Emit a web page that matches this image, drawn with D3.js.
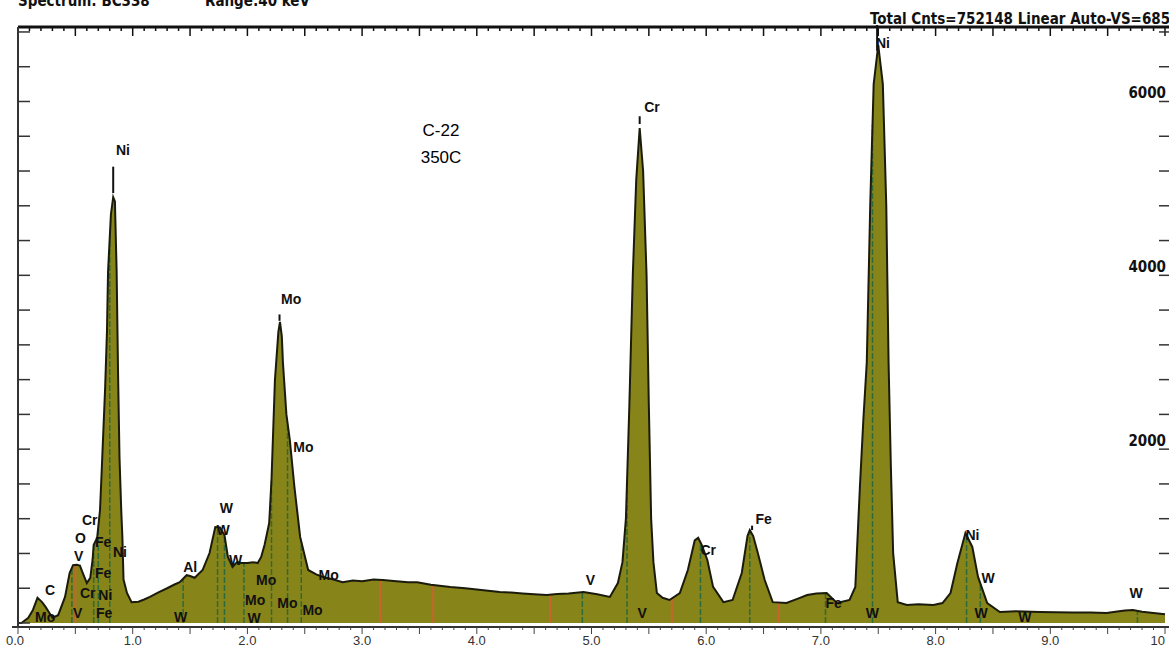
<!DOCTYPE html>
<html>
<head>
<meta charset="utf-8">
<script src="https://cdn.jsdelivr.net/npm/d3@7"></script>
<style>
	body { margin: 0; background: #fff; }
	svg { display: block; }
	.lbl { font-family: "Liberation Sans", Arial, sans-serif; font-size: 14px; font-weight: bold; fill: #111; }
	.hdr { font-family: "Liberation Sans Narrow", "DejaVu Sans Condensed", Arial, sans-serif; font-size: 15px; font-weight: bold; fill: #111; }
</style>
</head>
<body>
<div id="chart"></div>
<script>
// spectrum (keV, counts)
var energy = [0.00, 0.03, 0.09, 0.13, 0.17, 0.21, 0.24, 0.30, 0.35, 0.41, 0.45, 0.48, 0.51, 0.54, 0.56, 0.60, 0.63, 0.65, 0.66, 0.69, 0.715, 0.73, 0.76, 0.776, 0.785, 0.81, 0.83, 0.845, 0.86, 0.872, 0.885, 0.90, 0.91, 0.92, 0.95, 0.99,
	1.05, 1.10, 1.15, 1.22, 1.30, 1.36, 1.41, 1.47, 1.50, 1.54, 1.61, 1.67, 1.72, 1.76, 1.80, 1.83, 1.87, 1.91, 1.95, 2.00, 2.05, 2.09, 2.12, 2.15, 2.19, 2.21, 2.24, 2.27, 2.284, 2.30, 2.31, 2.34, 2.37, 2.41, 2.46, 2.53,
	2.60, 2.66, 2.75, 2.83, 2.92, 3.00, 3.10, 3.18, 3.30, 3.40, 3.48, 3.60, 3.77, 3.90, 4.00, 4.10, 4.20, 4.30, 4.40, 4.50, 4.61, 4.70, 4.80, 4.93, 5.05, 5.16, 5.23, 5.27, 5.30, 5.33, 5.36, 5.39, 5.42, 5.45, 5.48, 5.50, 5.52, 5.54, 5.57,
	5.62, 5.68, 5.77, 5.84, 5.90, 5.93, 5.96, 6.01, 6.06, 6.15, 6.23, 6.31, 6.36, 6.38, 6.41, 6.45, 6.51, 6.58, 6.70, 6.80, 6.88, 6.96, 7.05, 7.14, 7.25, 7.30, 7.34, 7.37, 7.40, 7.43, 7.46, 7.50, 7.54, 7.57, 7.59, 7.61, 7.63, 7.67,
	7.75, 7.85, 7.98, 8.06, 8.13, 8.19, 8.26, 8.32, 8.37, 8.45, 8.56, 8.70, 8.91, 9.05, 9.20, 9.35, 9.49, 9.60, 9.65, 9.72, 9.80, 9.90, 10.0];
var counts = [0, 0, 60, 150, 290, 240, 185, 60, 90, 300, 575, 665, 670, 660, 590, 460, 520, 725, 900, 980, 1300, 1760, 2715, 3370, 4040, 4700, 4900, 4850, 4040, 2900, 1900, 1300, 990, 500, 345, 240,
	245, 270, 300, 350, 400, 440, 470, 550, 540, 520, 610, 805, 1105, 1100, 1010, 760, 645, 700, 690, 690, 700, 690, 760, 900, 1150, 1645, 2795, 3350, 3463, 3300, 2990, 2400, 2105, 1565, 990, 610,
	560, 530, 500, 470, 490, 480, 500, 495, 480, 470, 470, 440, 415, 400, 385, 370, 357, 350, 340, 330, 322, 335, 340, 357, 330, 300, 460, 700, 1200, 2500, 4000, 5100, 5695, 5200, 4000, 2500, 1200, 700, 345,
	290, 265, 345, 610, 950, 980, 900, 725, 415, 240, 265, 575, 1000, 1070, 1000, 805, 495, 240, 230, 280, 322, 340, 345, 230, 265, 415, 1565, 2335, 3000, 4800, 6200, 6650, 6200, 4800, 3000, 1800, 800, 240,
	207, 215, 207, 230, 345, 690, 1035, 875, 530, 230, 127, 135, 127, 125, 120, 122, 115, 135, 145, 150, 130, 115, 100];

var axisTicks = [2000, 4000, 6000];
var keVTicks = ["0.0", "1.0", "2.0", "3.0", "4.0", "5.0", "6.0", "7.0", "8.0", "9.0", "10"];

// element tags: text, keV, counts of the text baseline
var tagText = ["Ni", "Mo", "Mo", "Cr", "Ni", "C", "Mo", "O", "V", "V", "Cr", "Fe", "Ni", "Fe", "Cr", "Ni", "Fe", "Al", "W", "W", "W", "W", "Mo", "Mo", "W", "Mo", "Mo", "Mo", "V", "V", "Cr", "Fe", "Fe", "W", "Ni", "W", "W", "W", "W"];
var tagKeV = [0.854, 2.293, 2.40, 5.46, 7.48, 0.235, 0.148, 0.497, 0.488, 0.48, 0.558, 0.671, 0.828, 0.671, 0.54, 0.70, 0.68, 1.44, 1.36, 1.76, 1.73, 1.84, 2.075, 1.98, 2.0, 2.26, 2.48, 2.62, 4.95, 5.40, 5.95, 6.43, 7.04, 7.39, 8.26, 8.40, 8.34, 8.72, 9.69];
var tagCounts = [5382, 3669, 1967, 5877, 6612, 322, 11, 920, 713, 58, 1127, 874, 759, 518, 288, 265, 58, 587, 11, 1265, 1012, 667, 437, 207, 0, 172, 92, 495, 437, 58, 782, 1139, 172, 58, 955, 460, 58, 11, 288];

// marker lines under the curve
var greenLines = [0.47, 0.66, 0.70, 0.80, 1.44, 1.74, 1.80, 1.97, 2.21, 2.35, 2.47, 4.92, 5.31, 5.95, 6.38, 7.04, 7.45, 8.27, 8.39, 9.76];
var redLines = [0.50, 3.16, 3.62, 4.64, 5.70, 6.63];
// short marks above the main peaks
var peakMarks = [0.83, 2.28, 5.42, 6.40, 7.49];
var peakMarkTop = [5250, 3550, 5830, 1120, 6880];

var W = 1169, H = 647;
var x = d3.scaleLinear().domain([0, 10]).range([18, 1165]);
var y = d3.scaleLinear().domain([0, 6857]).range([623, 27]);

var svg = d3.select('#chart')
	.append('svg')
		.attr('width', W)
		.attr('height', H);

var pts = energy.map(function(e, i) { return [e, counts[i]]; });

function countAt(e) {
	var i = d3.bisectLeft(energy, e);
	if (i <= 0) return counts[0];
	if (i >= energy.length) return counts[counts.length - 1];
	var t = (e - energy[i - 1]) / (energy[i] - energy[i - 1]);
	return counts[i - 1] + t * (counts[i] - counts[i - 1]);
}

var area = d3.area()
	.x(function(d) { return x(d[0]); })
	.y0(y(0))
	.y1(function(d) { return y(d[1]); });

svg.append('path')
	.datum(pts)
	.attr('d', area)
	.attr('fill', '#878419');

svg.selectAll('.gline')
	.data(greenLines)
	.enter()
	.append('line')
		.attr('x1', function(d) { return x(d); })
		.attr('x2', function(d) { return x(d); })
		.attr('y1', y(0))
		.attr('y2', function(d) { return y(countAt(d)); })
		.attr('stroke', '#2e6b3a')
		.attr('stroke-width', 1.5)
		.attr('stroke-dasharray', '6,2');

svg.selectAll('.rline')
	.data(redLines)
	.enter()
	.append('line')
		.attr('x1', function(d) { return x(d); })
		.attr('x2', function(d) { return x(d); })
		.attr('y1', y(0))
		.attr('y2', function(d) { return y(countAt(d)); })
		.attr('stroke', '#c8642e')
		.attr('stroke-width', 2);

svg.append('path')
	.datum(pts)
	.attr('d', d3.line()
		.x(function(d) { return x(d[0]); })
		.y(function(d) { return y(d[1]); }))
	.attr('fill', 'none')
	.attr('stroke', '#1b1b0c')
	.attr('stroke-width', 2);

svg.selectAll('.pmark')
	.data(peakMarks)
	.enter()
	.append('line')
		.attr('x1', function(d) { return x(d); })
		.attr('x2', function(d) { return x(d); })
		.attr('y1', function(d) { return y(countAt(d)) - 4; })
		.attr('y2', function(d, i) { return y(peakMarkTop[i]); })
		.attr('stroke', '#111')
		.attr('stroke-width', 2);

svg.selectAll('.tag')
	.data(tagText)
	.enter()
	.append('text')
		.attr('class', 'lbl')
		.attr('x', function(d, i) { return x(tagKeV[i]); })
		.attr('y', function(d, i) { return y(tagCounts[i]); })
		.text(function(d) { return d; });

// frame: top, left, bottom
var minor = d3.range(0, 101).map(function(i) { return i / 10; });

svg.append('line')
	.attr('x1', x(0)).attr('x2', W)
	.attr('y1', 27).attr('y2', 27)
	.attr('stroke', '#111').attr('stroke-width', 3);

svg.selectAll('.ttick')
	.data(minor)
	.enter()
	.append('line')
		.attr('x1', function(d) { return x(d); })
		.attr('x2', function(d) { return x(d); })
		.attr('y1', 27)
		.attr('y2', function(d, i) { return i % 5 === 0 ? 36 : 31; })
		.attr('stroke', '#111')
		.attr('stroke-width', 1.5);

svg.append('line')
	.attr('x1', x(0)).attr('x2', x(0))
	.attr('y1', 27).attr('y2', 627)
	.attr('stroke', '#333').attr('stroke-width', 2);

svg.selectAll('.ltick')
	.data(d3.range(0, 6857, 400))
	.enter()
	.append('line')
		.attr('x1', x(0))
		.attr('x2', x(0) + 12)
		.attr('y1', function(d) { return y(d); })
		.attr('y2', function(d) { return y(d); })
		.attr('stroke', '#333')
		.attr('stroke-width', 1.5);

svg.selectAll('.rtick')
	.data(d3.range(400, 6857, 400))
	.enter()
	.append('line')
		.attr('x1', W - 10)
		.attr('x2', W)
		.attr('y1', function(d) { return y(d); })
		.attr('y2', function(d) { return y(d); })
		.attr('stroke', '#333')
		.attr('stroke-width', 1.5);

svg.selectAll('.rlab')
	.data(axisTicks)
	.enter()
	.append('text')
		.attr('class', 'hdr')
		.attr('x', W - 3)
		.attr('y', function(d) { return y(d) - 3; })
		.attr('text-anchor', 'end')
		.text(function(d) { return d; });

svg.append('line')
	.attr('x1', x(0) - 6).attr('x2', W)
	.attr('y1', 627).attr('y2', 627)
	.attr('stroke', '#333').attr('stroke-width', 2);

svg.selectAll('.btick')
	.data(minor)
	.enter()
	.append('line')
		.attr('x1', function(d) { return x(d); })
		.attr('x2', function(d) { return x(d); })
		.attr('y1', 627)
		.attr('y2', function(d, i) { return i % 5 === 0 ? 634 : 630; })
		.attr('stroke', '#444')
		.attr('stroke-width', 1);

svg.selectAll('.blab')
	.data(keVTicks)
	.enter()
	.append('text')
		.attr('x', function(d, i) { return i === 0 ? x(i) - 12 : x(i); })
		.attr('y', 645)
		.attr('text-anchor', function(d, i) { return i === 0 ? 'start' : (i === 10 ? 'end' : 'middle'); })
		.attr('font-family', 'Liberation Sans, Arial, sans-serif')
		.attr('font-size', 13)
		.attr('fill', '#333')
		.text(function(d) { return d; });

// header texts
svg.append('text').attr('class', 'hdr').attr('x', 18).attr('y', 6).text('Spectrum: BC338');
svg.append('text').attr('class', 'hdr').attr('x', 205).attr('y', 6).text('Range:40  keV');
svg.append('text').attr('class', 'hdr').attr('x', 870).attr('y', 24).text('Total Cnts=752148 Linear  Auto-VS=6857');

svg.append('text')
	.attr('x', 441).attr('y', 136)
	.attr('text-anchor', 'middle')
	.attr('font-family', 'Liberation Sans, Arial, sans-serif')
	.attr('font-size', 17)
	.text('C-22');
svg.append('text')
	.attr('x', 441).attr('y', 163)
	.attr('text-anchor', 'middle')
	.attr('font-family', 'Liberation Sans, Arial, sans-serif')
	.attr('font-size', 17)
	.text('350C');
</script>
</body>
</html>
